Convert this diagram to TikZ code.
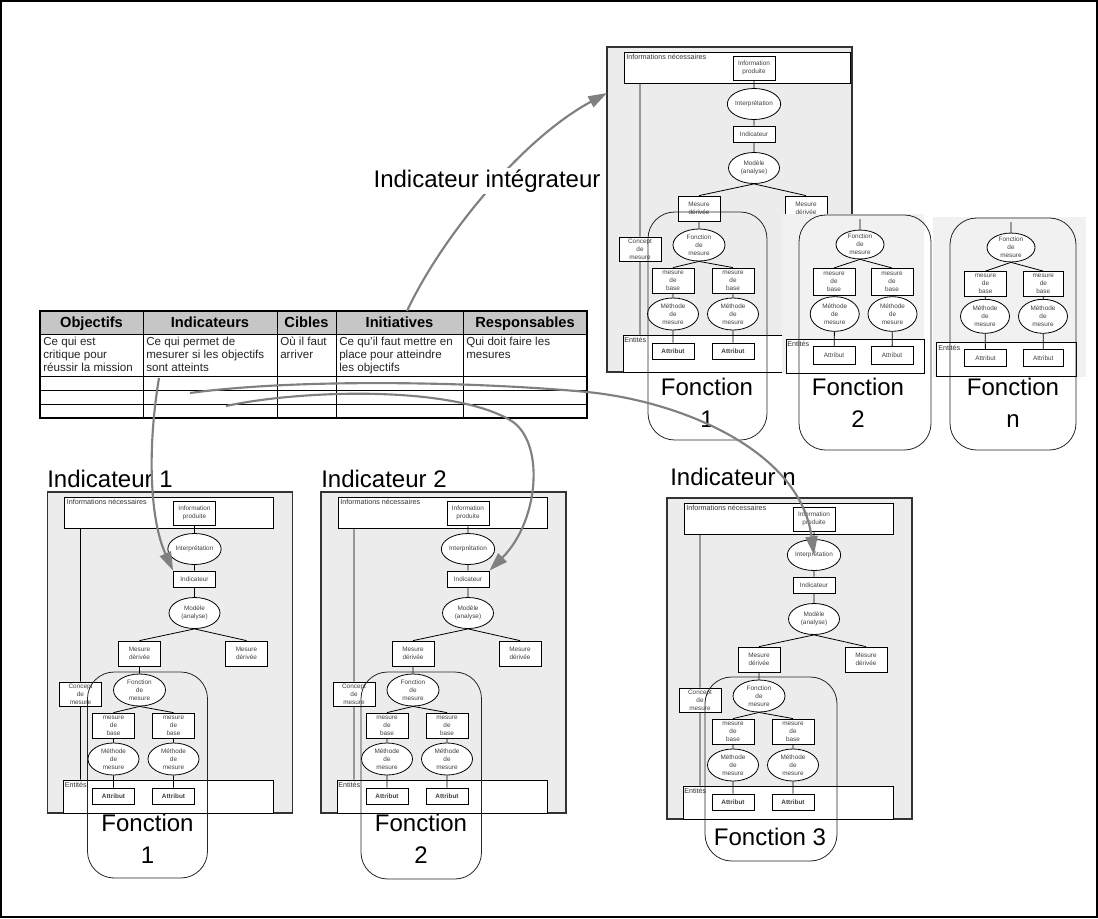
\documentclass[tikz,border=0pt]{standalone}
\usepackage{fontspec}
\setmainfont{Liberation Sans}
\usetikzlibrary{arrows.meta,shapes.geometric,fit}
\tikzset{
 outerbox/.style={draw=black!80, fill=gray!15, inner sep=0pt, line width=0.8pt},
 wbox/.style={draw=black, fill=white, inner sep=0pt, line width=0.6pt},
 smallfont/.style={font=\fontsize{4.8}{5.9}\selectfont},
 sbox/.style={draw=black, fill=white, minimum width=31.5pt, minimum height=18.75pt, inner sep=0pt, align=center, text=black!75, line width=0.6pt, smallfont},
 abox/.style={sbox, minimum height=12pt, font=\fontsize{4.8}{5.9}\selectfont\bfseries},
 rbox/.style={sbox, minimum height=14pt},
 oval/.style={ellipse, draw=black, fill=white, minimum width=38.25pt, minimum height=23.25pt, inner sep=0pt, align=center, text=black!75, line width=0.6pt, smallfont},
 lbl/.style={inner sep=0pt, text=black!80, font=\fontsize{5.4}{6.4}\selectfont},
 cn/.style={draw=black, line width=0.6pt},
 fct/.style={draw=black!85, rounded corners=20pt, inner sep=0pt, line width=0.6pt},
 big/.style={font=\fontsize{18}{24}\selectfont, align=center, inner sep=0pt},
 arr/.style={draw=black!50, line width=1.6pt, -{Triangle[length=14pt,width=9pt]}},
 tline/.style={draw=black, line width=0.5pt},
 hdr/.style={font=\fontsize{11}{13}\selectfont\bfseries, inner sep=0pt, anchor=base},
 bodyt/.style={font=\fontsize{8.7}{10}\selectfont, text=black!85, align=left, inner sep=0pt, anchor=north west},
 panel/.style={fill=gray!11}
}
% #1 name, #2 x, #3 y, #4 right of info box, #5 bottom
\newcommand\imodel[5]{%
\begin{scope}[shift={(#2,#3)}]
\node[outerbox, fit={(0,0) (245,#5)}] (#1-out) {};
\node[wbox, fit={(17,5) (#4,36)}] (#1-info) {};
\node[lbl, anchor=north west] (#1-infolbl) at (19,7) {Informations nécessaires};
\node[sbox, minimum height=18pt] (#1-prod) at (147,21) {Information\\produite};
\node[oval] (#1-interp) at (147,57) {Interprétation};
\node[sbox, minimum height=12pt] (#1-ind) at (147,87) {Indicateur};
\node[oval] (#1-mod) at (147,121) {Modèle\\(analyse)};
\node[sbox] (#1-mdl) at (92,161.5) {Mesure\\dérivée};
\node[sbox] (#1-mdr) at (199,161.5) {Mesure\\dérivée};
\node[wbox, fit={(16,288) (226,#5)}] (#1-ent) {};
\node[lbl, anchor=north west] (#1-entlbl) at (17,290) {Entités};
\node[sbox, minimum height=18pt] (#1-con) at (33,202) {Concept\\de\\mesure};
\node[oval, minimum width=39pt, minimum height=24pt] (#1-fdm) at (92,198) {Fonction\\de\\mesure};
\node[sbox] (#1-mbl) at (66,233.5) {mesure\\de\\base};
\node[sbox] (#1-mbr) at (126,233.5) {mesure\\de\\base};
\node[oval, minimum height=24pt] (#1-mel) at (66,267) {Méthode\\de\\mesure};
\node[oval, minimum height=24pt] (#1-mer) at (126,267) {Méthode\\de\\mesure};
\node[abox] (#1-atl) at (66,304) {Attribut};
\node[abox] (#1-atr) at (126,304) {Attribut};
\draw[cn] (#1-prod) -- (#1-interp) (#1-interp) -- (#1-ind) (#1-ind) -- (#1-mod)
  (#1-mod.south) -- (#1-mdl.north) (#1-mod.south) -- (#1-mdr.north)
  (#1-mdl) -- (#1-fdm)
  (#1-fdm.south) -- (#1-mbl.north) (#1-fdm.south) -- (#1-mbr.north)
  (#1-mbl) -- (#1-mel) (#1-mel) -- (#1-atl) (#1-mbr) -- (#1-mer) (#1-mer) -- (#1-atr)
  (#1-con |- #1-info.south) -- (#1-con.north) (#1-con.south) -- (#1-con |- #1-ent.north);
\end{scope}}
\begin{document}
\begin{tikzpicture}[x=0.75pt, y=-0.75pt]
\useasboundingbox (0,0) rectangle (1098,918);
\fill[white] (0,0) rectangle (1098,918);
\draw[black, line width=0.9pt] (1,1) rectangle (1097,917);

% ---------- top-right model ----------
\imodel{tr}{607}{47}{243}{325}
\node[fct, fit={(648,212) (767,440)}] (tr-fct) {};
\node[big] (tr-fl) at (707,403) {Fonction\\1};

% Fonction 2 panel
\fill[panel] (782,214) rectangle (924,373);
\node[wbox, fit={(786,339) (924,373)}] (f2-ent) {};
\node[lbl, anchor=north west] (f2-entlbl) at (787,341) {Entités};
\node[oval, minimum width=36pt, minimum height=21pt] (f2-fdm) at (860,244.5) {Fonction\\de\\mesure};
\node[sbox, minimum height=20pt] (f2-mbl) at (834,281.7) {mesure\\de\\base};
\node[sbox, minimum height=20pt] (f2-mbr) at (892,281.7) {mesure\\de\\base};
\node[oval, minimum width=36.75pt, minimum height=26pt] (f2-mel) at (834.7,314) {Méthode\\de\\mesure};
\node[oval, minimum width=36.75pt, minimum height=26pt] (f2-mer) at (892.5,314) {Méthode\\de\\mesure};
\node[rbox] (f2-atl) at (834,355.5) {Attribut};
\node[rbox] (f2-atr) at (892,355.5) {Attribut};
\coordinate (f2-st) at (860,219);
\draw[cn] (f2-st) -- (f2-fdm.north)
  (f2-fdm.south) -- (f2-mbl.north) (f2-fdm.south) -- (f2-mbr.north)
  (f2-mbl) -- (f2-mel) (f2-mel) -- (f2-atl) (f2-mbr) -- (f2-mer) (f2-mer) -- (f2-atr);
\node[fct, fit={(799,215) (931,450)}] (f2-fct) {};
\node[big] (f2-fl) at (858,403) {Fonction\\2};

% Fonction n panel
\fill[panel] (933,217) rectangle (1086,377);
\node[wbox, fit={(936.7,342.7) (1076,376)}] (fn-ent) {};
\node[lbl, anchor=north west] (fn-entlbl) at (938,344.5) {Entités};
\node[oval, minimum width=36pt, minimum height=21pt] (fn-fdm) at (1011,247.5) {Fonction\\de\\mesure};
\node[sbox] (fn-mbl) at (985.5,284) {mesure\\de\\base};
\node[sbox, minimum width=30pt] (fn-mbr) at (1043.3,284) {mesure\\de\\base};
\node[oval, minimum width=36.75pt, minimum height=25.5pt] (fn-mel) at (985,316.3) {Méthode\\de\\mesure};
\node[oval, minimum width=36.75pt, minimum height=25.5pt] (fn-mer) at (1043,316.3) {Méthode\\de\\mesure};
\node[rbox, minimum height=13pt] (fn-atl) at (985.5,358) {Attribut};
\node[rbox, minimum height=13pt, minimum width=30pt] (fn-atr) at (1043.3,358) {Attribut};
\coordinate (fn-st) at (1011,222);
\draw[cn] (fn-st) -- (fn-fdm.north)
  (fn-fdm.south) -- (fn-mbl.north) (fn-fdm.south) -- (fn-mbr.north)
  (fn-mbl) -- (fn-mel) (fn-mel) -- (fn-atl) (fn-mbr) -- (fn-mer) (fn-mer) -- (fn-atr);
\node[fct, fit={(950,218) (1076,450)}] (fn-fct) {};
\node[big] (fn-fl) at (1013,403) {Fonction\\n};

% ---------- table ----------
\fill[gray!45] (40,311) rectangle (587,334);
\foreach \yy in {334,376,390,404} \draw[tline] (40,\yy) -- (587,\yy);
\foreach \xx in {143,277,336,463} \draw[tline] (\xx,311) -- (\xx,418);
\draw[line width=0.9pt] (40,311) rectangle (587,418);
\node[hdr] (h1) at (91.5,327.5) {Objectifs};
\node[hdr] (h2) at (210,327.5) {Indicateurs};
\node[hdr] (h3) at (306.5,327.5) {Cibles};
\node[hdr] (h4) at (399.5,327.5) {Initiatives};
\node[hdr] (h5) at (525,327.5) {Responsables};
\node[bodyt] (b1) at (43,336.5) {Ce qui est\\critique pour\\réussir la mission};
\node[bodyt] (b2) at (146,336.5) {Ce qui permet de\\mesurer si les objectifs\\sont atteints};
\node[bodyt] (b3) at (280,336.5) {Où il faut\\arriver};
\node[bodyt] (b4) at (339,336.5) {Ce qu'il faut mettre en\\place pour atteindre\\les objectifs};
\node[bodyt] (b5) at (466,336.5) {Qui doit faire les\\mesures};

% ---------- bottom models ----------
\node[big, anchor=base west] (t1) at (47,487) {Indicateur 1};
\node[big, anchor=base west] (t2) at (321,487) {Indicateur 2};
\node[big, anchor=base west] (tn) at (670,485) {Indicateur n};

\imodel{ia}{47.5}{492}{226}{321}
\node[fct, fit={(87.5,672) (207.5,878)}] (ia-fct) {};
\node[big] (ia-fl) at (147.5,839) {Fonction\\1};

\imodel{ib}{321}{492}{226}{321}
\node[fct, fit={(361,672) (481.5,879)}] (ib-fct) {};
\node[big] (ib-fl) at (421,839) {Fonction\\2};

\imodel{in}{667}{498}{226}{321}
\node[fct, fit={(705,677) (837,861)}] (in-fct) {};
\node[big] (in-fl) at (770,837) {Fonction 3};

% ---------- arrows ----------
\coordinate (a1s) at (407,311);
\coordinate (a1e) at (607,93);
\draw[arr] (a1s) .. controls (440,240) and (520,140) .. (a1e);
\node[big, fill=white, inner sep=1.5pt] (integ) at (487,181) {Indicateur intégrateur};

\coordinate (a2s) at (159,378);
\draw[arr] (a2s) .. controls (147,450) and (150,520) .. (ia-ind.north west);

\coordinate (a3s) at (226,406);
\coordinate (a3m) at (510,420);
\draw[arr] (a3s) .. controls (300,390) and (450,385) .. (a3m) .. controls (545,440) and (540,520) .. (ib-ind.north east);

\coordinate (a4s) at (190,393);
\coordinate (a4m) at (587,392);
\draw[arr] (a4s) .. controls (300,378) and (480,382) .. (a4m) .. controls (680,401) and (800,450) .. (in-interp.center);
\end{tikzpicture}
\end{document}
